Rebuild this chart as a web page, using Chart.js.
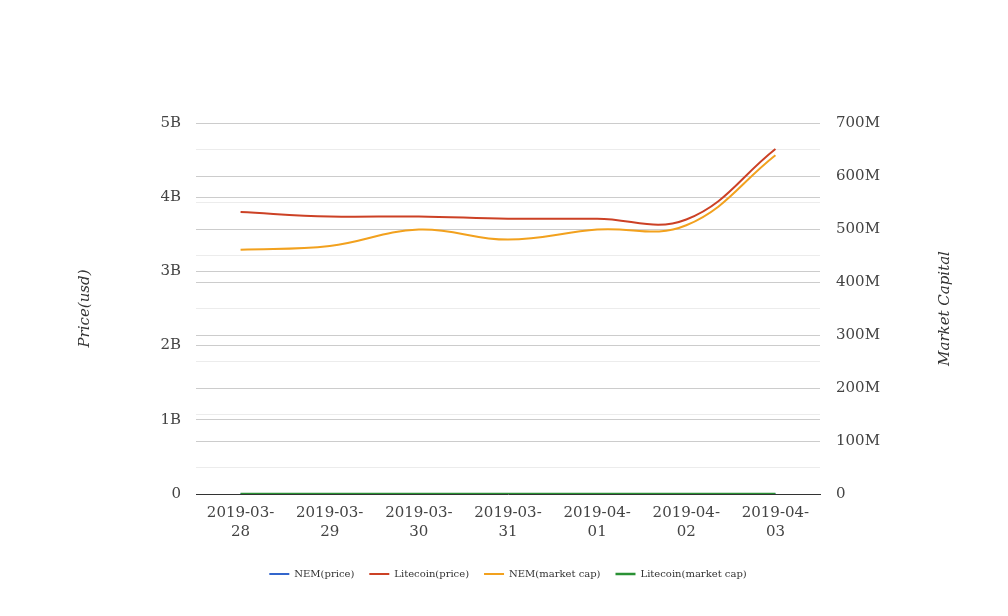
<!DOCTYPE html>
<html>
<head>
<meta charset="utf-8">
<script src="https://cdn.jsdelivr.net/npm/chart.js@4.4.1/dist/chart.umd.min.js"></script>
<style>
  body { margin: 0; background: #fff; }
  #wrap { width: 1008px; height: 616px; }
</style>
</head>
<body>
<div id="wrap"><canvas id="chart" width="1008" height="616"></canvas></div>
<script>
const categories = ['2019-03-28', '2019-03-29', '2019-03-30', '2019-03-31', '2019-04-01', '2019-04-02', '2019-04-03'];
const nemPrice = [0.051, 0.052, 0.055, 0.053, 0.055, 0.056, 0.070];
const litecoinPrice = [3.80e9, 3.74e9, 3.74e9, 3.71e9, 3.71e9, 3.70e9, 4.65e9];
const nemMarketCap = [461e6, 468e6, 499e6, 480e6, 499e6, 507e6, 639e6];
const litecoinMarketCap = [60.5, 59.9, 60.1, 59.6, 59.4, 59.0, 88.6];

const priceTicks = ['0', '1B', '2B', '3B', '4B', '5B'];
const capTicks = ['0', '100M', '200M', '300M', '400M', '500M', '600M', '700M'];

const serif = '"DejaVu Serif", serif';

// axis titles drawn by hand so both read bottom-to-top
const axisTitles = {
  id: 'axisTitles',
  afterDraw(chart) {
    const ctx = chart.ctx;
    const mid = (chart.chartArea.top + chart.chartArea.bottom) / 2;
    ctx.save();
    ctx.font = 'italic 15px ' + serif;
    ctx.fillStyle = '#333';
    ctx.textAlign = 'center';
    ctx.textBaseline = 'middle';
    [[85, 'Price(usd)'], [945, 'Market Capital']].forEach(([x, text]) => {
      ctx.save();
      ctx.translate(x, mid);
      ctx.rotate(-Math.PI / 2);
      ctx.fillText(text, 0, 0);
      ctx.restore();
    });
    ctx.restore();
  }
};

const line = (label, data, color, axis, order, width) => ({
  label, data, yAxisID: axis, order,
  borderColor: color, backgroundColor: color,
  borderWidth: width || 2, pointRadius: 0, tension: 0.4, fill: false
});

new Chart(document.getElementById('chart'), {
  type: 'line',
  data: {
    labels: categories,
    datasets: [
      line('NEM(price)', nemPrice, '#3366cc', 'price', 4),
      line('Litecoin(price)', litecoinPrice, '#cc4125', 'price', 3),
      line('NEM(market cap)', nemMarketCap, '#f2a11e', 'cap', 2),
      line('Litecoin(market cap)', litecoinMarketCap, '#2a9134', 'price', 1, 2.5)
    ]
  },
  options: {
    responsive: false,
    animation: false,
    layout: { padding: { top: 123, left: 8, right: 0, bottom: 27 } },
    plugins: {
      tooltip: { enabled: false },
      legend: {
        position: 'bottom',
        labels: {
          font: { family: serif, size: 10 },
          color: '#333',
          usePointStyle: true,
          pointStyle: 'line',
          pointStyleWidth: 20,
          padding: 15,
          sort: (a, b) => a.datasetIndex - b.datasetIndex
        }
      }
    },
    scales: {
      x: {
        offset: true,
        grid: { display: false, drawTicks: false },
        border: { display: true, color: '#333', width: 1 },
        ticks: {
          font: { family: serif, size: 15, lineHeight: 1.3 },
          color: '#444',
          padding: 9,
          maxRotation: 0,
          autoSkip: false,
          callback: function (v, i) {
            const s = categories[i];
            return [s.slice(0, 8), s.slice(8)];
          }
        },
        afterFit: s => { s.height = 60; }
      },
      price: {
        position: 'left',
        min: 0, max: 5e9,
        border: { display: false },
        grid: { drawTicks: false, color: c => c.tick.value === 0 ? 'rgba(0,0,0,0)' : '#cccccc' },
        ticks: {
          stepSize: 1e9,
          padding: 15,
          font: { family: serif, size: 15 },
          color: '#444',
          callback: v => priceTicks[Math.round(v / 1e9)]
        },
        afterFit: s => { s.width = 188; }
      },
      cap: {
        position: 'right',
        min: 0, max: 700e6,
        border: { display: false },
        grid: {
          drawTicks: false,
          color: c => c.tick.value === 0 ? 'rgba(0,0,0,0)' : (Math.round(c.tick.value / 1e6) % 100 === 0 ? '#cccccc' : '#ececec')
        },
        ticks: {
          stepSize: 50e6,
          autoSkip: false,
          padding: 16,
          font: { family: serif, size: 15 },
          color: '#444',
          callback: v => {
            const m = Math.round(v / 1e6);
            return m % 100 === 0 ? capTicks[m / 100] : '';
          }
        },
        afterFit: s => { s.width = 188; }
      }
    }
  },
  plugins: [axisTitles]
});
</script>
</body>
</html>
